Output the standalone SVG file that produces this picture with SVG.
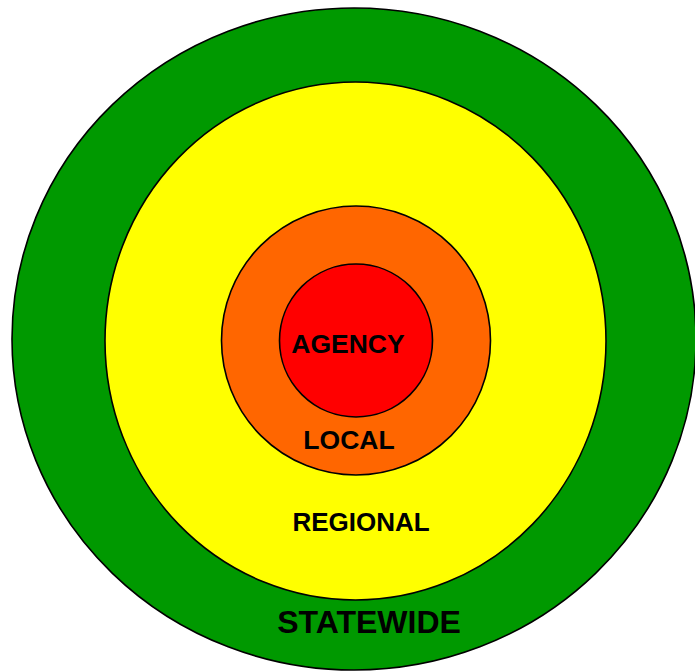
<svg xmlns="http://www.w3.org/2000/svg" width="695" height="672" viewBox="0 0 695 672">
<style>
.ring{stroke:#000;stroke-width:1.6}
.lbl{font-family:"Liberation Sans",Arial,sans-serif;font-weight:bold;fill:#000;text-anchor:middle}
</style>
<rect width="695" height="672" fill="#fff"/>
<g id="statewide">
<ellipse class="ring" cx="354" cy="339" rx="342" ry="331" fill="#009900"/>
</g>
<g id="regional">
<ellipse class="ring" cx="355.5" cy="341" rx="250.5" ry="259" fill="#ffff00"/>
</g>
<g id="local">
<ellipse class="ring" cx="356" cy="340.5" rx="134.5" ry="134.5" fill="#ff6600"/>
</g>
<g id="agency">
<ellipse class="ring" cx="356" cy="340.5" rx="76.5" ry="76.5" fill="#ff0000"/>
</g>
<g id="labels">
<text class="lbl" x="348" y="353" font-size="26.5">AGENCY</text>
<text class="lbl" x="349" y="449" font-size="26.5">LOCAL</text>
<text class="lbl" x="361" y="531" font-size="26">REGIONAL</text>
<text class="lbl" x="369" y="633" font-size="32">STATEWIDE</text>
</g>
<g id="connectors"/>
</svg>
